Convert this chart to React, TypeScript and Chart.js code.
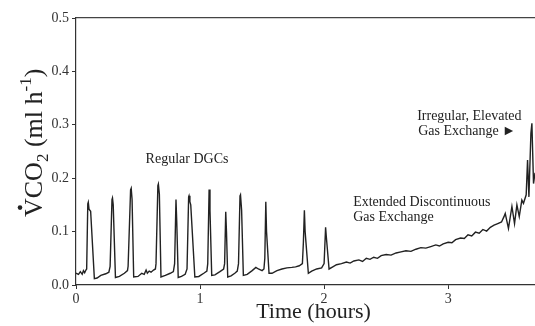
import { useEffect, useRef } from "react";
import { Chart, registerables } from "chart.js";

Chart.register(...registerables);

// Time in hours
const hours: number[] = [
  0.0, 0.02, 0.035, 0.05, 0.06, 0.07, 0.08, 0.086, 0.095, 0.099, 0.105, 0.118, 0.148,
  0.17, 0.2, 0.24, 0.265, 0.275, 0.29, 0.294, 0.3, 0.318,
  0.35, 0.39, 0.415, 0.42, 0.44, 0.445, 0.452, 0.465,
  0.5, 0.53, 0.55, 0.565, 0.575, 0.59, 0.605, 0.625, 0.64, 0.645, 0.66, 0.664, 0.672, 0.685,
  0.72, 0.76, 0.785, 0.795, 0.806, 0.812, 0.824,
  0.85, 0.88, 0.895, 0.908, 0.911, 0.918, 0.925, 0.958,
  0.99, 1.03, 1.055, 1.062, 1.073, 1.08, 1.094,
  1.12, 1.16, 1.19, 1.198, 1.207, 1.213, 1.223,
  1.25, 1.28, 1.3, 1.31, 1.322, 1.326, 1.335, 1.349,
  1.38, 1.42, 1.45, 1.47, 1.5, 1.515, 1.522, 1.53, 1.536, 1.556,
  1.58, 1.62, 1.66, 1.7, 1.74, 1.77, 1.8, 1.825, 1.833, 1.841, 1.847, 1.873,
  1.9, 1.94, 1.98, 2.0, 2.012, 2.018, 2.04,
  2.07, 2.1, 2.14, 2.18, 2.21, 2.24, 2.28, 2.31, 2.34, 2.37, 2.4, 2.43, 2.46, 2.5, 2.54,
  2.58, 2.62, 2.66, 2.7, 2.74, 2.78, 2.82, 2.86, 2.9, 2.93, 2.96, 3.0, 3.03, 3.06, 3.1,
  3.13, 3.16, 3.19, 3.22, 3.25, 3.28, 3.31, 3.34, 3.37, 3.4, 3.43, 3.45, 3.46,
  3.486, 3.514, 3.535, 3.554, 3.573, 3.594, 3.607, 3.629, 3.64, 3.651, 3.667, 3.675,
  3.688, 3.7,
];

// VCO2 in ml h-1
const vco2: number[] = [
  0.022, 0.02, 0.025, 0.02, 0.027, 0.023, 0.028, 0.03, 0.152, 0.155, 0.142, 0.138, 0.012,
  0.013, 0.018, 0.021, 0.024, 0.035, 0.16, 0.163, 0.15, 0.014,
  0.016, 0.022, 0.027, 0.035, 0.178, 0.181, 0.16, 0.015,
  0.016, 0.022, 0.02, 0.028, 0.022, 0.026, 0.024, 0.028, 0.03, 0.04, 0.186, 0.189, 0.17, 0.015,
  0.018, 0.022, 0.025, 0.04, 0.16, 0.12, 0.014,
  0.016, 0.02, 0.03, 0.165, 0.167, 0.156, 0.15, 0.015,
  0.016, 0.022, 0.026, 0.04, 0.179, 0.14, 0.018,
  0.019, 0.025, 0.03, 0.04, 0.137, 0.1, 0.015,
  0.017, 0.022, 0.026, 0.04, 0.167, 0.169, 0.14, 0.018,
  0.02, 0.027, 0.033, 0.03, 0.027, 0.03, 0.05, 0.156, 0.1, 0.022,
  0.022, 0.027, 0.03, 0.032, 0.033, 0.034, 0.036, 0.04, 0.08, 0.14, 0.1, 0.022,
  0.026, 0.03, 0.032, 0.04, 0.108, 0.09, 0.03,
  0.034, 0.038, 0.04, 0.043, 0.041, 0.045, 0.047, 0.044, 0.05, 0.048, 0.052, 0.05, 0.055, 0.057, 0.056,
  0.06, 0.062, 0.064, 0.063, 0.067, 0.07, 0.069, 0.072, 0.075, 0.073, 0.077, 0.08, 0.079, 0.085, 0.088,
  0.087, 0.094, 0.092, 0.099, 0.097, 0.104, 0.101, 0.108, 0.112, 0.115, 0.118, 0.128, 0.134,
  0.106, 0.147, 0.115, 0.15, 0.128, 0.159, 0.153, 0.169, 0.234, 0.165, 0.284, 0.303,
  0.19, 0.21,
];

const xTicks: number[] = [0, 1, 2, 3];
const yTicks: number[] = [0, 0.1, 0.2, 0.3, 0.4, 0.5];

const noteTexts: string[] = [
  "Regular DGCs",
  "Extended Discontinuous",
  "Gas Exchange",
  "Irregular, Elevated",
  "Gas Exchange \u25BA",
];
const noteHours: number[] = [0.895, 2.234, 2.234, 2.75, 2.758];
const noteValues: number[] = [0.236, 0.155, 0.127, 0.316, 0.287];
const noteAligns: CanvasTextAlign[] = ["center", "left", "left", "left", "left"];

const SERIF = '"Liberation Serif", "Times New Roman", serif';
const INK = "#222";

const textPlugin = {
  id: "textPlugin",
  afterDraw(chart: any) {
    const ctx: CanvasRenderingContext2D = chart.ctx;
    const xs = chart.scales.x;
    const ys = chart.scales.y;
    ctx.save();
    ctx.fillStyle = INK;
    // annotations
    ctx.font = `14px ${SERIF}`;
    ctx.textBaseline = "middle";
    for (let i = 0; i < noteTexts.length; i++) {
      ctx.textAlign = noteAligns[i];
      ctx.fillText(noteTexts[i], xs.getPixelForValue(noteHours[i]), ys.getPixelForValue(noteValues[i]));
    }
    // x title
    ctx.textAlign = "center";
    ctx.textBaseline = "alphabetic";
    ctx.font = `22px ${SERIF}`;
    ctx.fillText("Time (hours)", (chart.chartArea.left + chart.chartArea.right) / 2 + 8, 318);

    // y title
    ctx.translate(42, 217);
    ctx.rotate(-Math.PI / 2);
    ctx.textAlign = "left";
    const main = `26px ${SERIF}`;
    const small = `17px ${SERIF}`;
    let x = 0;
    ctx.font = main;
    ctx.fillText("V", x, 0);
    const vw = ctx.measureText("V").width;
    ctx.beginPath();
    ctx.arc(x + vw / 2, -22, 2.3, 0, Math.PI * 2);
    ctx.fill();
    x += vw;
    ctx.fillText("CO", x, 0);
    x += ctx.measureText("CO").width;
    ctx.font = small;
    ctx.fillText("2", x, 6);
    x += ctx.measureText("2").width;
    ctx.font = main;
    ctx.fillText(" (ml h", x, 0);
    x += ctx.measureText(" (ml h").width;
    ctx.font = small;
    ctx.fillText("-1", x, -11);
    x += ctx.measureText("-1").width;
    ctx.font = main;
    ctx.fillText(")", x, 0);
    ctx.restore();
  },
};

export default function App() {
  const ref = useRef<HTMLCanvasElement | null>(null);
  useEffect(() => {
    if (!ref.current) return;
    const chart = new Chart(ref.current, {
      type: "line",
      data: {
        datasets: [
          {
            data: hours.map((h, i) => ({ x: h, y: vco2[i] })),
            borderColor: INK,
            borderWidth: 1.4,
            pointRadius: 0,
            tension: 0,
            fill: false,
          },
        ],
      },
      options: {
        animation: false,
        responsive: false,
        layout: { padding: 0 },
        plugins: { legend: { display: false }, tooltip: { enabled: false } },
        scales: {
          x: {
            type: "linear",
            position: "bottom",
            min: 0,
            max: 3.7,
            afterFit: (s: any) => {
              s.height = 41;
            },
            afterBuildTicks: (s: any) => {
              s.ticks = xTicks.map((value) => ({ value }));
            },
            ticks: {
              font: { family: SERIF, size: 14 },
              color: "#333",
              padding: 2,
              maxRotation: 0,
              callback: (v: any) => String(v),
            },
            grid: { display: true, drawOnChartArea: false, drawTicks: true, tickLength: 4, color: "#333" },
            border: { display: true, color: "#333", width: 1.2 },
          },
          top: {
            type: "linear",
            position: "top",
            min: 0,
            max: 1,
            afterFit: (s: any) => {
              s.height = 18;
            },
            ticks: { display: false },
            grid: { display: false },
            border: { display: true, color: "#444", width: 1.2 },
          },
          y: {
            type: "linear",
            min: 0,
            max: 0.5,
            afterFit: (s: any) => {
              s.width = 76;
            },
            afterBuildTicks: (s: any) => {
              s.ticks = yTicks.map((value) => ({ value }));
            },
            ticks: {
              font: { family: SERIF, size: 14 },
              color: "#333",
              padding: 3,
              callback: (v: any) => Number(v).toFixed(1),
            },
            grid: { display: true, drawOnChartArea: false, drawTicks: true, tickLength: 4, color: "#333" },
            border: { display: true, color: "#333", width: 1.2 },
          },
        },
      },
      plugins: [textPlugin],
    });
    return () => chart.destroy();
  }, []);
  return (
    <div style={{ position: "absolute", left: 0, top: 0, width: 535, height: 326, background: "#fff" }}>
      <canvas ref={ref} width={535} height={326} style={{ display: "block" }} />
    </div>
  );
}
